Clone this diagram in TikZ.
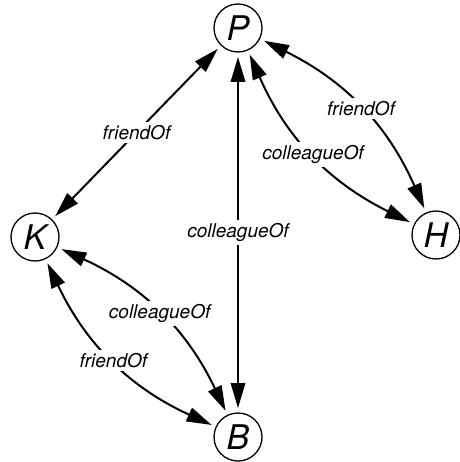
\documentclass[tikz,border=0pt]{standalone}
\usepackage{fontspec}
\setmainfont{TeX Gyre Heros}
\usetikzlibrary{arrows.meta}
\tikzset{
  vertex/.style={circle, draw, line width=1.3pt, minimum size=48pt, inner sep=0pt, outer sep=5pt,
    font=\itshape\fontsize{34}{34}\selectfont},
  edge/.style={line width=2pt, {Triangle[length=25pt,width=14.5pt]}-{Triangle[length=25pt,width=14.5pt]}},
  lbl/.style={fill=white, inner sep=3pt, font=\itshape\fontsize{19}{21}\selectfont}
}
\begin{document}
\begin{tikzpicture}[x=1pt,y=-1pt]
\useasboundingbox (0,0) rectangle (459,462);
\node[vertex] (P) at (238,28) {P};
\node[vertex] (K) at (35,237) {K};
\node[vertex] (H) at (436,235) {H};
\node[vertex] (B) at (238,437) {B};
\draw[edge] (P) -- node[lbl]{friendOf} (K);
\draw[edge] (P) -- node[lbl]{colleagueOf} (B);
\draw[edge] (P) to[bend left=20] node[lbl]{friendOf} (H);
\draw[edge] (P) to[bend right=20] node[lbl]{colleagueOf} (H);
\draw[edge] (K) to[bend left=20] node[lbl]{colleagueOf} (B);
\draw[edge] (K) to[bend right=20] node[lbl]{friendOf} (B);
\end{tikzpicture}
\end{document}
